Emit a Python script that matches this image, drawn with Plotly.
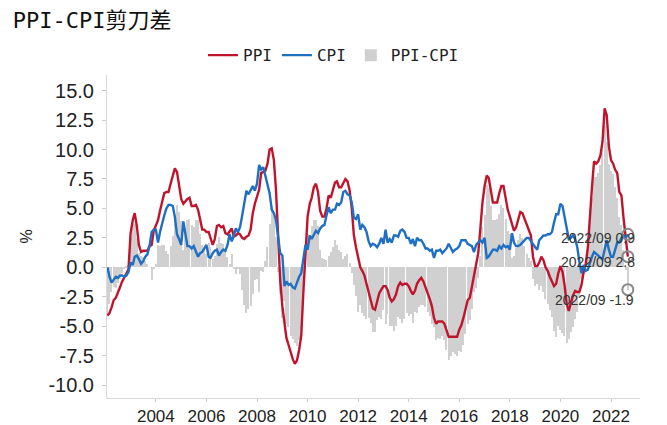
import pandas as pd
import plotly.graph_objects as go

# Monthly YoY %, 2002-02 .. 2022-09
start_month = "2002-02-01"

ppi = [
    -4.1, -3.9, -3.4, -2.8, -2.6, -2.2, -1.7, -1.2, -0.9, -0.6, -0.2,            # 2002 (Feb-Dec)
    2.9, 4.0, 4.6, 3.5, 1.9, 1.3, 1.4, 1.4, 1.4, 1.8, 1.9, 3.1,                # 2003
    3.5, 4.0, 4.8, 5.7, 6.3, 6.4, 6.4, 7.1, 7.9, 8.4, 8.1, 7.1,                # 2004
    5.8, 5.4, 5.6, 5.8, 5.9, 5.2, 5.2, 5.3, 4.9, 4.0, 3.2, 3.2,                # 2005
    3.0, 3.0, 2.5, 1.9, 2.4, 3.5, 3.6, 3.4, 3.5, 2.9, 2.8, 3.1,                # 2006
    3.3, 2.6, 2.7, 2.9, 2.8, 2.5, 2.4, 2.6, 2.7, 3.2, 4.6, 5.4,                # 2007
    6.1, 6.6, 8.0, 8.1, 8.2, 8.8, 10.0, 10.1, 9.1, 6.6, 2.0, -1.1,             # 2008
    -3.3, -4.5, -6.0, -6.6, -7.2, -7.8, -8.2, -7.9, -7.0, -5.8, -2.1, 1.7,     # 2009
    4.3, 5.4, 5.9, 6.8, 7.1, 6.4, 4.8, 4.3, 4.3, 5.0, 6.1, 5.9,                # 2010
    6.6, 7.2, 7.3, 6.8, 6.8, 7.1, 7.5, 7.3, 6.5, 5.0, 2.7, 1.7,                # 2011
    0.7, 0.0, -0.3, -0.7, -1.4, -2.1, -2.9, -3.5, -3.6, -2.8, -2.2, -1.9,      # 2012
    -1.6, -1.6, -1.9, -2.6, -2.9, -2.7, -2.3, -1.6, -1.3, -1.5, -1.4, -1.4,    # 2013
    -1.6, -2.0, -2.3, -2.0, -1.4, -1.1, -0.9, -1.2, -1.8, -2.2, -2.7, -3.3,    # 2014
    -4.3, -4.8, -4.6, -4.6, -4.6, -4.8, -5.4, -5.9, -5.9, -5.9, -5.9, -5.9,    # 2015
    -5.3, -4.9, -4.3, -3.4, -2.8, -2.6, -1.7, -0.8, 0.1, 1.2, 3.3, 5.5,        # 2016
    6.9, 7.8, 7.6, 6.4, 5.5, 5.5, 5.5, 6.3, 6.9, 6.9, 5.8, 4.9,                # 2017
    4.3, 3.7, 3.1, 3.4, 4.1, 4.7, 4.6, 4.1, 3.6, 3.3, 2.7, 0.9,                # 2018
    0.1, 0.1, 0.4, 0.9, 0.6, 0.0, -0.3, -0.8, -1.2, -1.6, -1.4, -0.5,          # 2019
    0.1, -0.4, -1.5, -3.1, -3.7, -3.0, -2.4, -2.0, -2.1, -2.1, -1.5, -0.4,     # 2020
    0.3, 1.7, 4.4, 6.8, 9.0, 8.8, 9.0, 9.5, 10.7, 13.5, 12.9, 10.3,            # 2021
    9.1, 8.8, 8.3, 8.0, 6.4, 6.1, 4.2, 2.3, 0.9,                               # 2022 (Jan-Sep)
]

cpi = [
    0.0, -0.8, -1.3, -1.1, -0.8, -0.9, -0.7, -0.7, -0.8, -0.7, -0.4,           # 2002 (Feb-Dec)
    0.4, 0.2, 0.9, 1.0, 0.7, 0.3, 0.5, 0.9, 1.1, 1.8, 3.0, 3.2,                # 2003
    3.2, 2.1, 3.0, 3.8, 4.4, 5.0, 5.3, 5.3, 5.2, 4.3, 2.8, 2.4,                # 2004
    1.9, 3.9, 2.7, 1.8, 1.8, 1.6, 1.8, 1.3, 0.9, 1.2, 1.3, 1.6,                # 2005
    1.9, 0.9, 0.8, 1.2, 1.4, 1.5, 1.0, 1.3, 1.5, 1.4, 1.9, 2.8,                # 2006
    2.2, 2.7, 3.3, 3.0, 3.4, 4.4, 5.6, 6.5, 6.2, 6.5, 6.9, 6.5,                # 2007
    7.1, 8.7, 8.3, 8.5, 7.7, 7.1, 6.3, 4.9, 4.6, 4.0, 2.4, 1.2,                # 2008
    1.0, -1.6, -1.2, -1.5, -1.4, -1.7, -1.8, -1.2, -0.8, -0.5, 0.6, 1.9,       # 2009
    1.5, 2.7, 2.4, 2.8, 3.1, 2.9, 3.3, 3.5, 3.6, 4.4, 5.1, 4.6,                # 2010
    4.9, 4.9, 5.4, 5.3, 5.5, 6.4, 6.5, 6.2, 6.1, 5.5, 4.2, 4.1,                # 2011
    4.5, 3.2, 3.6, 3.4, 3.0, 2.2, 1.8, 2.0, 1.9, 1.7, 2.0, 2.5,                # 2012
    2.0, 3.2, 2.1, 2.4, 2.1, 2.7, 2.7, 2.6, 3.1, 3.2, 3.0, 2.5,                # 2013
    2.5, 2.0, 2.4, 1.8, 2.5, 2.3, 2.3, 2.0, 1.6, 1.6, 1.4, 1.5,                # 2014
    0.8, 1.4, 1.4, 1.5, 1.2, 1.4, 1.6, 2.0, 1.6, 1.3, 1.5, 1.6,                # 2015
    1.8, 2.3, 2.3, 2.3, 2.0, 1.9, 1.8, 1.3, 1.9, 2.1, 2.3, 2.1,                # 2016
    2.5, 0.8, 0.9, 1.2, 1.5, 1.5, 1.4, 1.8, 1.6, 1.9, 1.7, 1.8,                # 2017
    1.5, 2.9, 2.1, 1.8, 1.8, 1.9, 2.1, 2.3, 2.5, 2.5, 2.2, 1.9,                # 2018
    1.7, 1.5, 2.3, 2.5, 2.7, 2.7, 2.8, 2.8, 3.0, 3.8, 4.5, 4.5,                # 2019
    5.4, 5.2, 4.3, 3.3, 2.4, 2.5, 2.7, 2.4, 1.7, 0.5, -0.5, 0.2,               # 2020
    -0.3, -0.2, 0.4, 0.9, 1.3, 1.1, 1.0, 0.8, 0.7, 1.5, 2.3, 1.5,              # 2021
    0.9, 0.9, 1.5, 2.1, 2.1, 2.5, 2.7, 2.5, 2.8,                               # 2022 (Jan-Sep)
]

# PPI-CPI scissors gap (definition of the third series)
gap = [round(p - c, 1) for p, c in zip(ppi, cpi)]

tick_years = [2004, 2006, 2008, 2010, 2012, 2014, 2016, 2018, 2020, 2022]
y_ticks = [15.0, 12.5, 10.0, 7.5, 5.0, 2.5, 0.0, -2.5, -5.0, -7.5, -10.0]

dates = pd.date_range(start_month, periods=len(ppi), freq="MS")

RED = "#c0142d"
BLUE = "#1f6fc2"
GRAY_BAR = "#d0d0d0"

fig = go.Figure()
fig.add_trace(go.Scatter(x=dates, y=ppi, name="PPI", mode="lines",
                         line=dict(color=RED, width=2.4)))
fig.add_trace(go.Scatter(x=dates, y=cpi, name="CPI", mode="lines",
                         line=dict(color=BLUE, width=2.4)))
fig.add_trace(go.Bar(x=dates, y=gap, name="PPI-CPI", marker_color=GRAY_BAR,
                     marker_line_width=0, width=17 * 86400000))

# end-point markers
last = dates[-1]
fig.add_trace(go.Scatter(x=[last, last, last], y=[cpi[-1], ppi[-1], gap[-1]],
                         mode="markers", showlegend=False,
                         marker=dict(symbol="circle-open", size=11,
                                     color="#8a8a8a", line=dict(width=2))))

lab = last.strftime("%Y/%m")
ann_font = dict(family="Liberation Sans, Arial, sans-serif", size=14, color="#333333")
fig.add_annotation(x=last, y=ppi[-1], text=f"{lab} {ppi[-1]}", showarrow=False,
                   xshift=-30, yshift=19, font=ann_font)
fig.add_annotation(x=last, y=cpi[-1], text=f"{lab} {cpi[-1]}", showarrow=False,
                   xshift=-30, yshift=-28, font=ann_font)
fig.add_annotation(x=last, y=gap[-1], text=f"{lab} {gap[-1]}", showarrow=False,
                   xshift=-33, yshift=-10, font=ann_font)

fig.update_layout(
    width=667, height=425,
    margin=dict(l=107, r=27, t=75, b=27, autoexpand=False),
    paper_bgcolor="white", plot_bgcolor="white",
    title=dict(text="PPI-CPI剪刀差", x=0.019, xanchor="left", xref="container",
               y=0.953, yanchor="middle", yref="container",
               font=dict(family="DejaVu Sans Mono, Noto Sans CJK SC, monospace",
                         size=22, color="#111111")),
    legend=dict(orientation="h", x=0.5, xanchor="center", xref="container",
                y=0.87, yanchor="middle", yref="container",
                font=dict(family="DejaVu Sans Mono, Noto Sans CJK SC, monospace",
                          size=16, color="#222222"),
                itemwidth=30, traceorder="normal", bgcolor="rgba(0,0,0,0)"),
    bargap=0,
    showlegend=True,
)

fig.update_xaxes(
    type="date", automargin=False,
    range=["2002-01-25", "2023-02-24"],
    tickvals=[pd.Timestamp(f"{y}-01-01") for y in tick_years],
    ticktext=[str(y) for y in tick_years],
    showgrid=False, zeroline=False,
    showline=True, linecolor="#d9d9d9", linewidth=1,
    ticks="outside", ticklen=3, tickcolor="#cccccc",
    tickfont=dict(family="Liberation Sans, Arial, sans-serif", size=17, color="#222222"),
)
fig.update_yaxes(
    automargin=False,
    range=[-11.1, 16.33],
    tickvals=y_ticks,
    ticktext=[f"{v:.1f}" for v in y_ticks],
    showgrid=False, zeroline=False,
    showline=True, linecolor="#d9d9d9", linewidth=1,
    ticks="outside", ticklen=4, tickcolor="#cccccc",
    ticklabelstandoff=4,
    tickfont=dict(family="Liberation Sans, Arial, sans-serif", size=20, color="#222222"),
    title=dict(text="%", standoff=11,
               font=dict(family="Liberation Sans, Arial, sans-serif", size=16, color="#222222")),
)

fig.write_html("out.html", config={"displayModeBar": False},
               post_script="document.body.style.margin='0px';document.body.style.overflow='hidden';")
